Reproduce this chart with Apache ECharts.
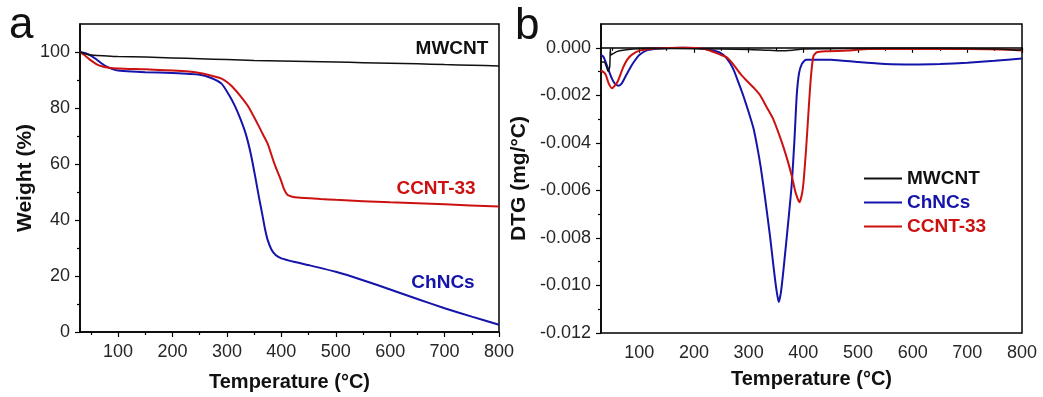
<!DOCTYPE html>
<html>
<head>
<meta charset="utf-8">
<script src="https://cdn.jsdelivr.net/npm/echarts@6/dist/echarts.min.js"></script>
<style>
  html, body { margin: 0; padding: 0; background: #fff; }
  #chart { width: 1043px; height: 397px; }
</style>
</head>
<body>
<div id="chart"></div>
<script>
// TGA (panel a): [temperature °C, weight %]
const tgaMwcnt = [[30,100],[40,99.3],[55,98.8],[80,98.6],[100,98.4],[150,98.2],[200,97.9],[250,97.6],[300,97.3],[350,97.0],[400,96.8],[450,96.6],[500,96.4],[550,96.2],[600,96.0],[650,95.8],[700,95.5],[750,95.3],[800,95.0]];
const tgaChncs = [[30,100],[40,99.6],[50,98.7],[60,97.4],[70,95.9],[80,94.7],[90,93.9],[100,93.4],[125,93.0],[150,92.8],[200,92.5],[250,91.9],[270,90.8],[290,88.7],[305,84.3],[315,80.6],[325,76],[335,70.5],[344,63.5],[352,55.5],[359,48],[365,42],[370,36.8],[375,32.8],[382,29.4],[390,27.4],[400,26.3],[425,25.0],[450,23.9],[500,21.5],[550,18.5],[600,15.2],[650,11.8],[700,8.5],[750,5.5],[800,2.6]];
const tgaCcnt = [[30,100],[40,98.6],[50,97],[60,95.7],[70,94.9],[80,94.5],[100,94.1],[150,93.8],[200,93.4],[230,93.0],[255,92.3],[270,91.6],[290,90.5],[300,89.3],[310,87.6],[326,84],[340,80.3],[356,74.5],[366,70.6],[375,67.2],[387,60.2],[399,54.3],[405,51],[411,49],[420,48.3],[430,48.0],[472,47.5],[500,47.2],[600,46.3],[700,45.6],[800,44.8]];

// DTG (panel b): [temperature °C, mg/°C]
const dtgMwcnt = [[30,-0.0006],[36,-0.0006],[40,-0.0008],[43,-0.001],[46,-0.0008],[47,-0.00005],[48,-0.0003],[52,-0.00025],[60,-0.00015],[70,-0.0001],[90,-0.00005],[120,-0.00002],[200,-0.00004],[250,-0.00005],[300,-0.00007],[330,-0.0001],[360,-0.00013],[380,-0.0001],[400,-0.00005],[450,-0.00004],[500,-0.00003],[600,-0.00002],[700,-0.00003],[760,-0.00005],[790,-0.0001],[800,-0.00008]];
const dtgChncs = [[30,-0.0003],[35,-0.0004],[40,-0.0007],[45,-0.001],[50,-0.0013],[55,-0.0015],[62,-0.0016],[68,-0.0015],[75,-0.0012],[82,-0.0009],[90,-0.0006],[100,-0.0003],[115,-0.0001],[140,-0.00003],[180,0],[220,-0.00005],[247,-0.0002],[260,-0.00045],[272,-0.0009],[282,-0.0015],[290,-0.002],[300,-0.0027],[309,-0.0034],[316,-0.0042],[322,-0.005],[330,-0.0063],[339,-0.0079],[346,-0.0093],[351,-0.0102],[355,-0.0107],[359,-0.0103],[363,-0.0095],[367,-0.0086],[373,-0.0072],[379,-0.0057],[384,-0.0038],[388,-0.002],[392,-0.0011],[397,-0.0007],[405,-0.0005],[450,-0.0005],[500,-0.0006],[550,-0.00068],[600,-0.0007],[650,-0.00068],[700,-0.00063],[750,-0.00055],[800,-0.00045]];
const dtgCcnt = [[30,-0.00095],[38,-0.0011],[44,-0.0015],[50,-0.0017],[55,-0.0016],[61,-0.0014],[66,-0.0011],[71,-0.0008],[78,-0.0005],[86,-0.0003],[100,-0.00012],[130,-0.00003],[180,0],[220,-0.00005],[247,-0.00028],[260,-0.0004],[272,-0.0007],[285,-0.0011],[297,-0.0014],[310,-0.0017],[321,-0.002],[333,-0.0025],[345,-0.003],[355,-0.0036],[364,-0.0042],[372,-0.0048],[379,-0.0054],[386,-0.0061],[393,-0.0065],[398,-0.0061],[401,-0.0055],[405,-0.0043],[409.5,-0.0027],[414,-0.0012],[418.6,-0.00035],[424,-0.0002],[440,-0.00015],[480,-0.00012],[520,-0.00005],[600,-0.00005],[700,-0.00005],[780,-0.00008],[800,-0.00012]];

// ticks
const tempTicks = [100, 200, 300, 400, 500, 600, 700, 800];
const tempMinor = [50, 150, 250, 350, 450, 550, 650, 750];
const weightTicks = [0, 20, 40, 60, 80, 100];
const weightMinor = [10, 30, 50, 70, 90];
const dtgTicks = [-0.012, -0.01, -0.008, -0.006, -0.004, -0.002, 0];
const dtgMinor = [-0.011, -0.009, -0.007, -0.005, -0.003, -0.001];

const names = ['MWCNT', 'ChNCs', 'CCNT-33'];
const colors = ['#111111', '#1414aa', '#cc1111'];

const FONT = "'Liberation Sans', Arial, sans-serif";
const tickFont = { fontFamily: FONT, fontSize: 18, color: '#262626' };
const nameFont = { fontFamily: FONT, fontSize: 20, fontWeight: 'bold', color: '#111' };

const gridA = { left: 80, top: 24, width: 419, height: 308 };
const gridB = { left: 601, top: 24, width: 421, height: 309 };

function mainX(gi, gap) {
    return {
        type: 'value', gridIndex: gi, min: 30, max: 800,
        name: 'Temperature (°C)', nameLocation: 'middle', nameGap: gap, nameTextStyle: nameFont,
        axisLine: { lineStyle: { color: '#000', width: 1.5 } },
        axisTick: { length: 5, customValues: tempTicks, lineStyle: { color: '#000', width: 1.2 } },
        axisLabel: { customValues: tempTicks, margin: 11, ...tickFont },
        splitLine: { show: false },
    };
}
// overlay axis, only for the short minor ticks
function minorAxis(gi, min, max, vals) {
    return {
        type: 'value', gridIndex: gi, min, max,
        axisLine: { show: false },
        axisTick: { length: 3, customValues: vals, lineStyle: { color: '#000', width: 1.2 } },
        axisLabel: { show: false, customValues: vals },
        splitLine: { show: false },
    };
}

function line(name, color, data, xi, yi, width) {
    return {
        name, type: 'line', xAxisIndex: xi, yAxisIndex: yi, data,
        symbol: 'none', showSymbol: false, smooth: 0.2,
        lineStyle: { color, width }, itemStyle: { color },
        z: name === 'MWCNT' ? 3 : 2,
    };
}

const chart = echarts.init(document.getElementById('chart'));
chart.setOption({
    animation: false,
    backgroundColor: '#fff',
    grid: [
        { ...gridA, show: true, borderColor: '#000', borderWidth: 1.5 },
        { ...gridB, show: true, borderColor: '#000', borderWidth: 1.5 },
        { ...gridA },
        { ...gridB },
    ],
    xAxis: [
        mainX(0, 40),
        mainX(1, 36),
        minorAxis(2, 30, 800, tempMinor),
        minorAxis(3, 30, 800, tempMinor),
    ],
    yAxis: [
        {
            type: 'value', gridIndex: 0, min: 0, max: 110,
            name: 'Weight (%)', nameLocation: 'middle', nameGap: 40, nameTextStyle: { ...nameFont, fontSize: 21 },
            axisLine: { lineStyle: { color: '#000', width: 1.5 } },
            axisTick: { length: 5, customValues: weightTicks, lineStyle: { color: '#000', width: 1.2 } },
            axisLabel: { customValues: weightTicks, margin: 10, ...tickFont },
            splitLine: { show: false },
        },
        {
            type: 'value', gridIndex: 1, min: -0.012, max: 0.001,
            name: 'DTG (mg/°C)', nameLocation: 'middle', nameGap: 71, nameTextStyle: { ...nameFont, fontSize: 21 },
            axisLine: { lineStyle: { color: '#000', width: 1.5 } },
            axisTick: { length: 5, customValues: dtgTicks, lineStyle: { color: '#000', width: 1.2 } },
            axisLabel: { customValues: dtgTicks, margin: 10, ...tickFont, formatter: v => v.toFixed(3) },
            splitLine: { show: false },
        },
        minorAxis(2, 0, 110, weightMinor),
        minorAxis(3, -0.012, 0.001, dtgMinor),
    ],
    legend: {
        orient: 'vertical', left: 864, top: 169, padding: 0,
        icon: 'path://M0,0H38V2H0Z', itemWidth: 38, itemHeight: 2, itemGap: 5,
        textStyle: { fontFamily: FONT, fontSize: 19, fontWeight: 'bold' },
        data: names.map((n, i) => ({ name: n, textStyle: { color: colors[i] } })),
        selectedMode: false,
    },
    graphic: [
        { type: 'text', left: 9, top: 4, style: { text: 'a', font: `44px ${FONT}`, fill: '#111' } },
        { type: 'text', left: 515, top: 5, style: { text: 'b', font: `44px ${FONT}`, fill: '#111' } },
        { type: 'text', style: { x: 452, y: 49, text: 'MWCNT', align: 'center', verticalAlign: 'middle', font: `bold 19px ${FONT}`, fill: colors[0] } },
        { type: 'text', style: { x: 436, y: 189, text: 'CCNT-33', align: 'center', verticalAlign: 'middle', font: `bold 19px ${FONT}`, fill: colors[2] } },
        { type: 'text', style: { x: 443, y: 283, text: 'ChNCs', align: 'center', verticalAlign: 'middle', font: `bold 19px ${FONT}`, fill: colors[1] } },
    ],
    series: [
        line('MWCNT', colors[0], tgaMwcnt, 0, 0, 1.5),
        line('ChNCs', colors[1], tgaChncs, 0, 0, 2),
        line('CCNT-33', colors[2], tgaCcnt, 0, 0, 2),
        line('MWCNT', colors[0], dtgMwcnt, 1, 1, 1.5),
        line('ChNCs', colors[1], dtgChncs, 1, 1, 2),
        line('CCNT-33', colors[2], dtgCcnt, 1, 1, 2),
    ],
});
</script>
</body>
</html>
